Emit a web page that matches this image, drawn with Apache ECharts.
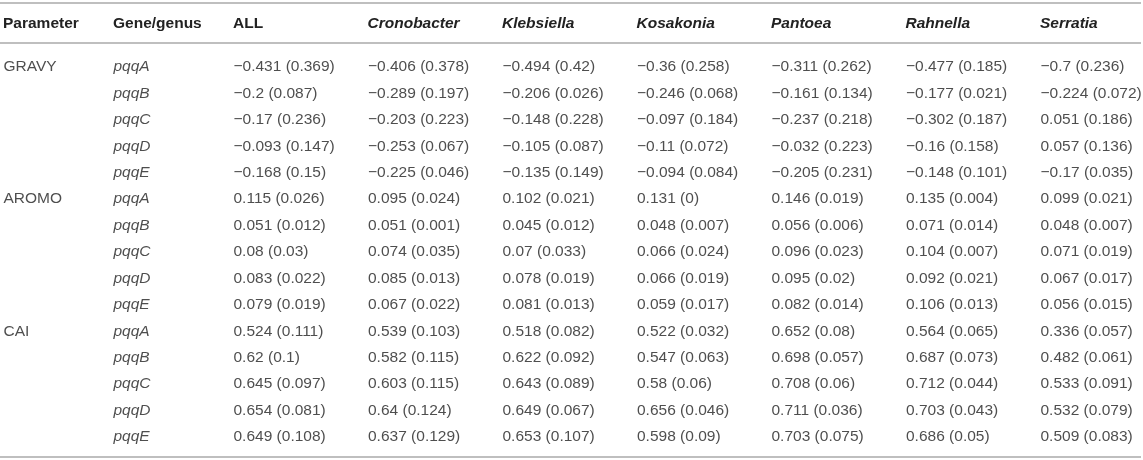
<!DOCTYPE html>
<html>
<head>
<meta charset="utf-8">
<script src="https://cdn.jsdelivr.net/npm/echarts@6/dist/echarts.min.js"></script>
<style>
html,body{margin:0;padding:0;background:#fff;}
#main{width:1143px;height:460px;}
</style>
</head>
<body>
<div id="main"></div>
<script>
// table content
var params = ['GRAVY', 'AROMO', 'CAI'];
var genes = ['pqqA', 'pqqB', 'pqqC', 'pqqD', 'pqqE'];
var leftCols = ['Parameter', 'Gene/genus'];
var columns = ['ALL', 'Cronobacter', 'Klebsiella', 'Kosakonia', 'Pantoea', 'Rahnella', 'Serratia'];

// mean values, rows = GRAVY pqqA..E, AROMO pqqA..E, CAI pqqA..E
var allMean = [-0.431, -0.2, -0.17, -0.093, -0.168, 0.115, 0.051, 0.08, 0.083, 0.079, 0.524, 0.62, 0.645, 0.654, 0.649];
var allSd = [0.369, 0.087, 0.236, 0.147, 0.15, 0.026, 0.012, 0.03, 0.022, 0.019, 0.111, 0.1, 0.097, 0.081, 0.108];
var cronobacterMean = [-0.406, -0.289, -0.203, -0.253, -0.225, 0.095, 0.051, 0.074, 0.085, 0.067, 0.539, 0.582, 0.603, 0.64, 0.637];
var cronobacterSd = [0.378, 0.197, 0.223, 0.067, 0.046, 0.024, 0.001, 0.035, 0.013, 0.022, 0.103, 0.115, 0.115, 0.124, 0.129];
var klebsiellaMean = [-0.494, -0.206, -0.148, -0.105, -0.135, 0.102, 0.045, 0.07, 0.078, 0.081, 0.518, 0.622, 0.643, 0.649, 0.653];
var klebsiellaSd = [0.42, 0.026, 0.228, 0.087, 0.149, 0.021, 0.012, 0.033, 0.019, 0.013, 0.082, 0.092, 0.089, 0.067, 0.107];
var kosakoniaMean = [-0.36, -0.246, -0.097, -0.11, -0.094, 0.131, 0.048, 0.066, 0.066, 0.059, 0.522, 0.547, 0.58, 0.656, 0.598];
var kosakoniaSd = [0.258, 0.068, 0.184, 0.072, 0.084, 0, 0.007, 0.024, 0.019, 0.017, 0.032, 0.063, 0.06, 0.046, 0.09];
var pantoeaMean = [-0.311, -0.161, -0.237, -0.032, -0.205, 0.146, 0.056, 0.096, 0.095, 0.082, 0.652, 0.698, 0.708, 0.711, 0.703];
var pantoeaSd = [0.262, 0.134, 0.218, 0.223, 0.231, 0.019, 0.006, 0.023, 0.02, 0.014, 0.08, 0.057, 0.06, 0.036, 0.075];
var rahnellaMean = [-0.477, -0.177, -0.302, -0.16, -0.148, 0.135, 0.071, 0.104, 0.092, 0.106, 0.564, 0.687, 0.712, 0.703, 0.686];
var rahnellaSd = [0.185, 0.021, 0.187, 0.158, 0.101, 0.004, 0.014, 0.007, 0.021, 0.013, 0.065, 0.073, 0.044, 0.043, 0.05];
var serratiaMean = [-0.7, -0.224, 0.051, 0.057, -0.17, 0.099, 0.048, 0.071, 0.067, 0.056, 0.336, 0.482, 0.533, 0.532, 0.509];
var serratiaSd = [0.236, 0.072, 0.186, 0.136, 0.035, 0.021, 0.007, 0.019, 0.017, 0.015, 0.057, 0.061, 0.091, 0.079, 0.083];

var means = [allMean, cronobacterMean, klebsiellaMean, kosakoniaMean, pantoeaMean, rahnellaMean, serratiaMean];
var sds = [allSd, cronobacterSd, klebsiellaSd, kosakoniaSd, pantoeaSd, rahnellaSd, serratiaSd];

var FONT = 'Liberation Sans';
var TXT = '#222';
var RULE = '#aaaaaa';

function num(v){
    return String(v).replace('-', '\u2212');
}

var rowKeys = [];
for (var p = 0; p < params.length; p++) {
    for (var g = 0; g < genes.length; g++) {
        rowKeys.push(params[p] + '|' + genes[g]);
    }
}

// left columns: parameter + gene
var paramData = [], geneData = [];
for (var i = 0; i < rowKeys.length; i++) {
    var parts = rowKeys[i].split('|');
    if (i % genes.length == 0) paramData.push({value: [leftCols[0], rowKeys[i]], name: parts[0]});
    geneData.push({value: [leftCols[1], rowKeys[i]], name: parts[1]});
}

function cellLabel(italic){
    return {
        show: true, position: 'right', distance: 0,
        formatter: function(p){ return p.name; },
        fontFamily: FONT, fontSize: 15.5, color: TXT,
        fontStyle: italic ? 'italic' : 'normal'
    };
}

var series = [
    {type: 'scatter', xAxisIndex: 0, yAxisIndex: 0, symbolSize: 1, itemStyle: {color: 'rgba(0,0,0,0)'},
     label: cellLabel(false), data: paramData, silent: true},
    {type: 'scatter', xAxisIndex: 0, yAxisIndex: 0, symbolSize: 1, itemStyle: {color: 'rgba(0,0,0,0)'},
     label: cellLabel(true), data: geneData, silent: true}
];
for (var c = 0; c < columns.length; c++) {
    var d = [];
    for (var r = 0; r < rowKeys.length; r++) {
        d.push({value: [columns[c], rowKeys[r]], name: num(means[c][r]) + ' (' + num(sds[c][r]) + ')'});
    }
    series.push({type: 'scatter', xAxisIndex: 1, yAxisIndex: 1, symbolSize: 1, itemStyle: {color: 'rgba(0,0,0,0)'},
        label: cellLabel(false), data: d, silent: true});
}

function headerAxis(idx, cats){
    return {
        type: 'category', gridIndex: idx, position: 'top', data: cats, boundaryGap: false,
        axisLine: {show: false}, axisTick: {show: false}, splitLine: {show: false},
        axisLabel: {
            show: true, margin: 43, align: 'left', verticalAlign: 'middle', interval: 0,
            fontFamily: FONT, fontSize: 15.5, fontWeight: 'bold', color: TXT,
            formatter: function(v){
                return (v == 'ALL' || leftCols.indexOf(v) >= 0) ? '{n|' + v + '}' : '{i|' + v + '}';
            },
            rich: {
                n: {fontFamily: FONT, fontSize: 15.5, fontWeight: 'bold', color: TXT},
                i: {fontFamily: FONT, fontSize: 15.5, fontWeight: 'bold', fontStyle: 'italic', color: TXT}
            }
        }
    };
}
function rowAxis(idx){
    return {
        type: 'category', gridIndex: idx, data: rowKeys, inverse: true, boundaryGap: false,
        axisLine: {show: false}, axisTick: {show: false}, axisLabel: {show: false}, splitLine: {show: false}
    };
}

var myChart = echarts.init(document.getElementById('main'), null, {renderer: 'canvas'});
var option = {
    animation: false,
    backgroundColor: '#fff',
    grid: [
        {left: 3, width: 110, top: 67, bottom: 23},
        {left: 233, width: 807, top: 67, bottom: 23}
    ],
    xAxis: [headerAxis(0, leftCols), headerAxis(1, columns)],
    yAxis: [rowAxis(0), rowAxis(1)],
    // table rules
    graphic: [
        {type: 'line', shape: {x1: 0, y1: 3, x2: 1141, y2: 3}, style: {stroke: RULE, lineWidth: 1.5}},
        {type: 'line', shape: {x1: 0, y1: 43, x2: 1141, y2: 43}, style: {stroke: RULE, lineWidth: 1.5}},
        {type: 'line', shape: {x1: 0, y1: 457, x2: 1141, y2: 457}, style: {stroke: RULE, lineWidth: 1.5}}
    ],
    series: series
};
myChart.setOption(option);
</script>
</body>
</html>
